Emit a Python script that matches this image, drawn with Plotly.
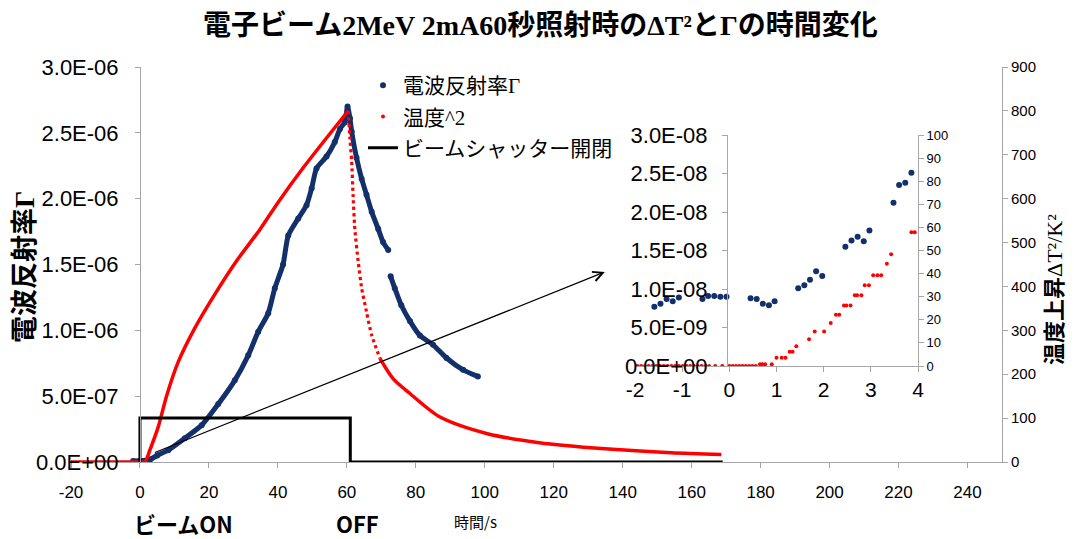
import plotly.graph_objects as go

W, H = 1074, 539

# ---------------- data ----------------
# main chart: reflection coefficient Gamma (left axis)
gamma_t = [-2, 0, 1.4, 3, 5, 8.2, 13, 17.9, 22.7, 27.5, 31.4, 34.3, 37.2, 39.1, 41.5, 43,
           45.9, 48.3, 49.8, 51.2, 54.1, 56.5, 58, 59.4, 60.2, 60.9, 61.4, 62.8, 64.3, 65.7,
           67.2, 69.1, 70.5, 72, 72.3, 72.7, 73.9, 75.8, 78.3, 81.2, 85, 88.9, 93.7, 98]
gamma = [0.008e-6, 0.009e-6, 0.01e-6, 0.02e-6, 0.05e-6, 0.09e-6, 0.18e-6, 0.28e-6, 0.44e-6,
         0.62e-6, 0.81e-6, 0.99e-6, 1.13e-6, 1.32e-6, 1.50e-6, 1.72e-6, 1.85e-6, 1.95e-6,
         2.08e-6, 2.23e-6, 2.32e-6, 2.43e-6, 2.53e-6, 2.58e-6, 2.70e-6, 2.61e-6, 2.51e-6,
         2.31e-6, 2.15e-6, 2.03e-6, 1.90e-6, 1.77e-6, 1.67e-6, 1.61e-6, None, 1.41e-6,
         1.32e-6, 1.19e-6, 1.07e-6, 0.96e-6, 0.89e-6, 0.79e-6, 0.70e-6, 0.65e-6]

# main chart: temperature^2 (right axis)
temp_t = [-20, -10, 0, 1.4, 3, 5.3, 7.7, 11.1, 15.9, 21.7, 28, 34.8, 40.1, 47.5, 56, 60.4,
          60.9, 61.4, 61.8, 62.3, 63.3, 64.3, 65.7, 67.2, 69.6, 73.4, 78.3, 86.9, 100.5,
          115.8, 135, 154, 168.6]
temp2 = [0, 0, 0, 0, 30, 80, 150, 228, 305, 382, 458, 530, 592, 672, 757, 800,
         737, 684, 608, 532, 456, 396, 342, 289, 236, 190, 156, 103, 65,
         44, 30, 21, 17]
RISE_END = 16   # index where steep decline begins
DECL_END = 24   # index where dense tail begins

# beam shutter open/close (right axis)
shutter_t = [0, 0, 61, 61, 169]
shutter = [0, 100, 100, 0, 0]

# inset: Gamma
ins_gamma_t = [-1.59, -1.46, -1.33, -1.20, -1.07, -0.57, -0.45, -0.32, -0.19, -0.06, 0.45, 0.58,
               0.71, 0.84, 0.96, 1.46, 1.59, 1.71, 1.84, 1.97, 2.46, 2.59, 2.72, 2.85, 2.97,
               3.48, 3.60, 3.73, 3.86]
ins_gamma = [0.77e-8, 0.81e-8, 0.87e-8, 0.84e-8, 0.89e-8, 0.87e-8, 0.91e-8, 0.91e-8, 0.90e-8,
             0.90e-8, 0.88e-8, 0.87e-8, 0.81e-8, 0.79e-8, 0.84e-8, 1.01e-8, 1.05e-8, 1.12e-8,
             1.23e-8, 1.17e-8, 1.55e-8, 1.63e-8, 1.68e-8, 1.62e-8, 1.76e-8, 2.12e-8, 2.35e-8,
             2.38e-8, 2.51e-8]

# inset: temperature^2
ins_temp_t = [-1.95, -1.87, -1.79, -1.71, -1.63, -1.55, -1.47, -1.39, -1.31, -1.23, -1.15, -1.07,
              -0.99, -0.91, -0.83, -0.75, -0.67, -0.59, -0.51, -0.43, -0.30, -0.15, 0.0, 0.07,
              0.14, 0.21, 0.28, 0.35, 0.42, 0.49, 0.56, 0.65, 0.70, 0.76, 0.90,
              1.0, 1.11, 1.19, 1.28, 1.34, 1.42, 1.69, 1.81, 2.01, 2.15, 2.26, 2.33, 2.43, 2.48,
              2.57, 2.66, 2.71, 2.80, 2.87, 2.96, 3.05, 3.14, 3.22, 3.34, 3.43, 3.86, 3.93]
ins_temp2 = [0, 0, 0, 0, 0, 0, 0, 0, 0, 0, 0, 0,
             0, 0, 0, 0, 0, 0, 0, 0, 0, 0, 0, 0,
             0, 0, 0, 0, 0, 0, 0, 0.8, 0.8, 0.8, 0.8,
             3.6, 3.6, 3.6, 6.2, 6.2, 8.6, 11.6, 14.9, 14.9, 18.6, 22.2, 22.2, 26.2, 26.2,
             26.2, 30.6, 30.6, 30.6, 35.0, 35.0, 39.3, 39.3, 39.3, 44.3, 48.4, 57.9, 57.9]

# axis ticks
x_ticks = [-20, 0, 20, 40, 60, 80, 100, 120, 140, 160, 180, 200, 220, 240]
x_labels = ["-20", "0", "20", "40", "60", "80", "100", "120", "140", "160", "180", "200",
            "220", "240"]
y_ticks = [0, 5e-7, 1e-6, 1.5e-6, 2e-6, 2.5e-6, 3e-6]
y_labels = ["0.0E+00", "5.0E-07", "1.0E-06", "1.5E-06", "2.0E-06", "2.5E-06", "3.0E-06"]
y2_ticks = [0, 100, 200, 300, 400, 500, 600, 700, 800, 900]
ins_x_ticks = [-2, -1, 0, 1, 2, 3, 4]
ins_x_labels = ["-2", "-1", "0", "1", "2", "3", "4"]
ins_y_ticks = [0, 5e-9, 1e-8, 1.5e-8, 2e-8, 2.5e-8, 3e-8]
ins_y_labels = ["0.0E+00", "5.0E-09", "1.0E-08", "1.5E-08", "2.0E-08", "2.5E-08", "3.0E-08"]
ins_y2_ticks = [0, 10, 20, 30, 40, 50, 60, 70, 80, 90, 100]

NAVY = "#13306B"
RED = "#FF0000"
GRAY = "#A6A6A6"
JP = "Noto Sans CJK JP"
SANS = "Liberation Sans, Arial"


def px(x):
    return x / W


def py(y):
    return 1 - y / H


fig = go.Figure()

# ---------------- main traces ----------------
fig.add_trace(go.Scatter(x=gamma_t, y=gamma, mode="lines+markers", xaxis="x", yaxis="y",
                         line=dict(color=NAVY, width=5, shape="spline", smoothing=0.6),
                         marker=dict(color=NAVY, size=6),
                         connectgaps=False, showlegend=False))
fig.add_trace(go.Scatter(x=temp_t[:RISE_END], y=temp2[:RISE_END], mode="lines",
                         xaxis="x", yaxis="y2",
                         line=dict(color=RED, width=3.5, shape="spline", smoothing=0.8),
                         showlegend=False))
fig.add_trace(go.Scatter(x=temp_t[RISE_END - 1:DECL_END + 1], y=temp2[RISE_END - 1:DECL_END + 1],
                         mode="lines", xaxis="x", yaxis="y2",
                         line=dict(color=RED, width=3.2, dash="dot", shape="spline", smoothing=0.6),
                         showlegend=False))
fig.add_trace(go.Scatter(x=temp_t[DECL_END:], y=temp2[DECL_END:], mode="lines",
                         xaxis="x", yaxis="y2",
                         line=dict(color=RED, width=3.5, shape="spline", smoothing=0.8),
                         showlegend=False))
fig.add_trace(go.Scatter(x=shutter_t, y=shutter, mode="lines", xaxis="x", yaxis="y2",
                         line=dict(color="black", width=3), showlegend=False))

# ---------------- inset traces ----------------
fig.add_trace(go.Scatter(x=ins_gamma_t, y=ins_gamma, mode="markers", xaxis="x3", yaxis="y3",
                         marker=dict(color=NAVY, size=6), showlegend=False))
fig.add_trace(go.Scatter(x=ins_temp_t, y=ins_temp2, mode="markers", xaxis="x3", yaxis="y4",
                         marker=dict(color=RED, size=4), showlegend=False))

# ---------------- legend entries ----------------
fig.add_trace(go.Scatter(x=[None], y=[None], mode="markers", xaxis="x", yaxis="y",
                         marker=dict(color=NAVY, size=6), legendgroup="g1",
                         name="電波反射率<span style=\"font-family:Liberation Serif\">Γ</span>"))
fig.add_trace(go.Scatter(x=[None], y=[None], mode="markers", xaxis="x", yaxis="y",
                         marker=dict(color=RED, size=4), legendgroup="g2",
                         name="温度<span style=\"font-family:Liberation Serif\">^2</span>"))
fig.add_trace(go.Scatter(x=[None], y=[None], mode="lines", xaxis="x", yaxis="y",
                         line=dict(color="black", width=3), legendgroup="g3",
                         name="ビームシャッター開閉"))

axis_common = dict(showgrid=False, zeroline=False, showline=True, linecolor=GRAY,
                   linewidth=1, ticks="outside", tickcolor=GRAY, ticklen=5, automargin=False)

fig.update_layout(
    width=W, height=H,
    margin=dict(l=0, r=0, t=0, b=0, autoexpand=False),
    plot_bgcolor="white", paper_bgcolor="white",
    showlegend=True,
    legend=dict(x=px(363), y=py(65), xanchor="left", yanchor="top",
                font=dict(family=JP, size=21, color="black"),
                bgcolor="rgba(0,0,0,0)", itemwidth=30, tracegroupgap=1),
    xaxis=dict(domain=[px(71), px(1002)], range=[-20, 250], tickvals=x_ticks, ticktext=x_labels,
               tickfont=dict(family=SANS, size=17, color="black"), anchor="y",
               ticklabelstandoff=10, **axis_common),
    yaxis=dict(domain=[py(462), py(67)], range=[0, 3e-6], tickvals=y_ticks, ticktext=y_labels,
               tickfont=dict(family=SANS, size=22, color="black"), anchor="free",
               position=px(140), ticklabelstandoff=12, **axis_common),
    yaxis2=dict(overlaying="y", side="right", anchor="x", range=[0, 900], tickvals=y2_ticks,
                tickfont=dict(family=SANS, size=15, color="black"), **axis_common),
    xaxis3=dict(domain=[px(635), px(918)], range=[-2, 4], tickvals=ins_x_ticks,
                ticktext=ins_x_labels,
                tickfont=dict(family=SANS, size=21, color="black"), anchor="y3",
                ticklabelstandoff=0, **axis_common),
    yaxis3=dict(domain=[py(366), py(135)], range=[0, 3e-8], tickvals=ins_y_ticks,
                ticktext=ins_y_labels, tickfont=dict(family=SANS, size=22, color="black"),
                anchor="free", position=px(727), ticklabelstandoff=10, **axis_common),
    yaxis4=dict(overlaying="y3", side="right", anchor="x3", range=[0, 100],
                tickvals=ins_y2_ticks, tickfont=dict(family=SANS, size=13, color="black"),
                **axis_common),
)

C = dict(xref="paper", yref="paper", showarrow=False, xanchor="center", yanchor="middle")
ann = []
# title
ann.append(dict(text="<b>電子ビーム<span style=\"font-family:Liberation Serif\">2MeV 2mA60</span>秒照射時の"
                     "<span style=\"font-family:Liberation Serif\">ΔT²</span>と"
                     "<span style=\"font-family:Liberation Serif\">Γ</span>の時間変化</b>",
                x=px(540), y=py(23), font=dict(family=JP, size=28, color="black"), **C))
# left axis title
ann.append(dict(text="<b>電波反射率<span style=\"font-family:Liberation Serif\">Γ</span></b>",
                x=px(22), y=py(267), textangle=-90,
                font=dict(family=JP, size=27, color="black"), **C))
# right axis title
ann.append(dict(text="<b>温度上昇</b><span style=\"font-family:Liberation Serif\">ΔT²/K²</span>",
                x=px(1052), y=py(290), textangle=-90,
                font=dict(family=JP, size=22, color="black"), **C))
# bottom labels
ann.append(dict(text="<b>ビームON</b>", x=px(183), y=py(523),
                font=dict(family=JP, size=22, color="black"), **C))
ann.append(dict(text="<b>OFF</b>", x=px(357), y=py(523),
                font=dict(family=JP, size=22, color="black"), **C))
ann.append(dict(text="時間/s", x=px(475), y=py(521),
                font=dict(family=JP, size=15, color="black"), **C))
# arrow to inset
ann.append(dict(text="", x=134.8, y=1.443e-6, xref="x", yref="y", ax=3.9, ay=0.068e-6,
                axref="x", ayref="y", showarrow=True, arrowhead=5, arrowsize=1.6,
                arrowwidth=1.2, arrowcolor="black", standoff=0))
fig.update_layout(annotations=ann)

fig.write_html("out.html", config={"displayModeBar": False},
               post_script="document.body.style.margin='0px';document.body.style.overflow='hidden';")
